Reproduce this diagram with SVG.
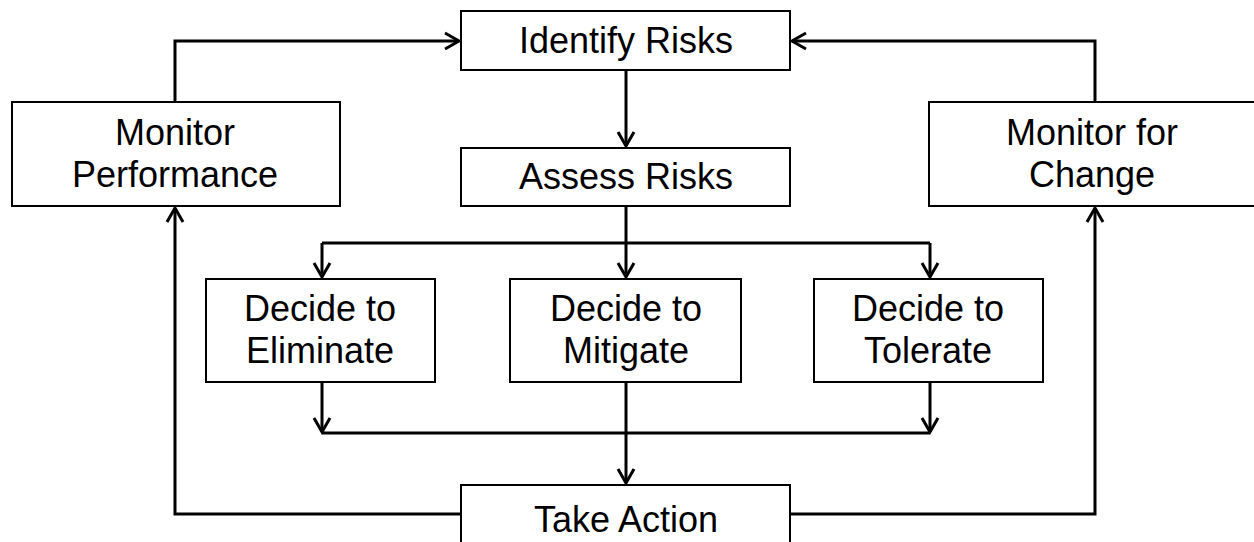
<svg xmlns="http://www.w3.org/2000/svg" width="1254" height="542" viewBox="0 0 1254 542">
  <style>
    .box { fill: #ffffff; stroke: #000000; stroke-width: 2; }
    .lbl { font-family: "Liberation Sans", Arial, sans-serif; font-size: 36px; fill: #000000; text-anchor: middle; }
    .wire { fill: none; stroke: #000000; stroke-width: 3; }
    .arr { marker-end: url(#chev); }
  </style>
  <defs>
    <!-- open chevron arrowhead, tip at the path end -->
    <marker id="chev" markerUnits="userSpaceOnUse" markerWidth="34" markerHeight="34" refX="0" refY="0" viewBox="-17 -17 34 34" orient="auto">
      <path d="M-14,-8 L0,0 L-14,8" fill="none" stroke="#000000" stroke-width="3"/>
    </marker>
  </defs>
  <rect width="1254" height="542" fill="#ffffff"/>

  <g id="connectors">
    <path class="wire arr" d="M175,102 V41 H459"/>
    <path class="wire arr" d="M1095,102 V41 H792"/>
    <path class="wire arr" d="M626,70 V146"/>
    <path class="wire arr" d="M626,206 V277"/>
    <path class="wire" d="M322,243 H930"/>
    <path class="wire arr" d="M322,243 V277"/>
    <path class="wire arr" d="M930,243 V277"/>
    <path class="wire arr" d="M322,382 V432"/>
    <path class="wire arr" d="M930,382 V432"/>
    <path class="wire" d="M322,433 H930"/>
    <path class="wire arr" d="M626,382 V483"/>
    <path class="wire arr" d="M461,514 H175 V208"/>
    <path class="wire arr" d="M790,514 H1095 V208"/>
  </g>

  <g id="identify-risks">
    <rect class="box" x="461" y="11" width="329" height="59"/>
    <text class="lbl" x="626" y="53">Identify Risks</text>
  </g>
  <g id="assess-risks">
    <rect class="box" x="461" y="148" width="329" height="58"/>
    <text class="lbl" x="626" y="189">Assess Risks</text>
  </g>
  <g id="monitor-performance">
    <rect class="box" x="12" y="102" width="328" height="104"/>
    <text class="lbl" x="175" y="145">Monitor</text>
    <text class="lbl" x="175" y="187">Performance</text>
  </g>
  <g id="monitor-change">
    <rect class="box" x="929" y="102" width="330" height="104"/>
    <text class="lbl" x="1092" y="145">Monitor for</text>
    <text class="lbl" x="1092" y="187">Change</text>
  </g>
  <g id="decide-eliminate">
    <rect class="box" x="206" y="279" width="229" height="103"/>
    <text class="lbl" x="320" y="321">Decide to</text>
    <text class="lbl" x="320" y="363">Eliminate</text>
  </g>
  <g id="decide-mitigate">
    <rect class="box" x="510" y="279" width="231" height="103"/>
    <text class="lbl" x="626" y="321">Decide to</text>
    <text class="lbl" x="626" y="363">Mitigate</text>
  </g>
  <g id="decide-tolerate">
    <rect class="box" x="814" y="279" width="229" height="103"/>
    <text class="lbl" x="928" y="321">Decide to</text>
    <text class="lbl" x="928" y="363">Tolerate</text>
  </g>
  <g id="take-action">
    <rect class="box" x="461" y="485" width="329" height="70"/>
    <text class="lbl" x="626" y="532">Take Action</text>
  </g>
</svg>
